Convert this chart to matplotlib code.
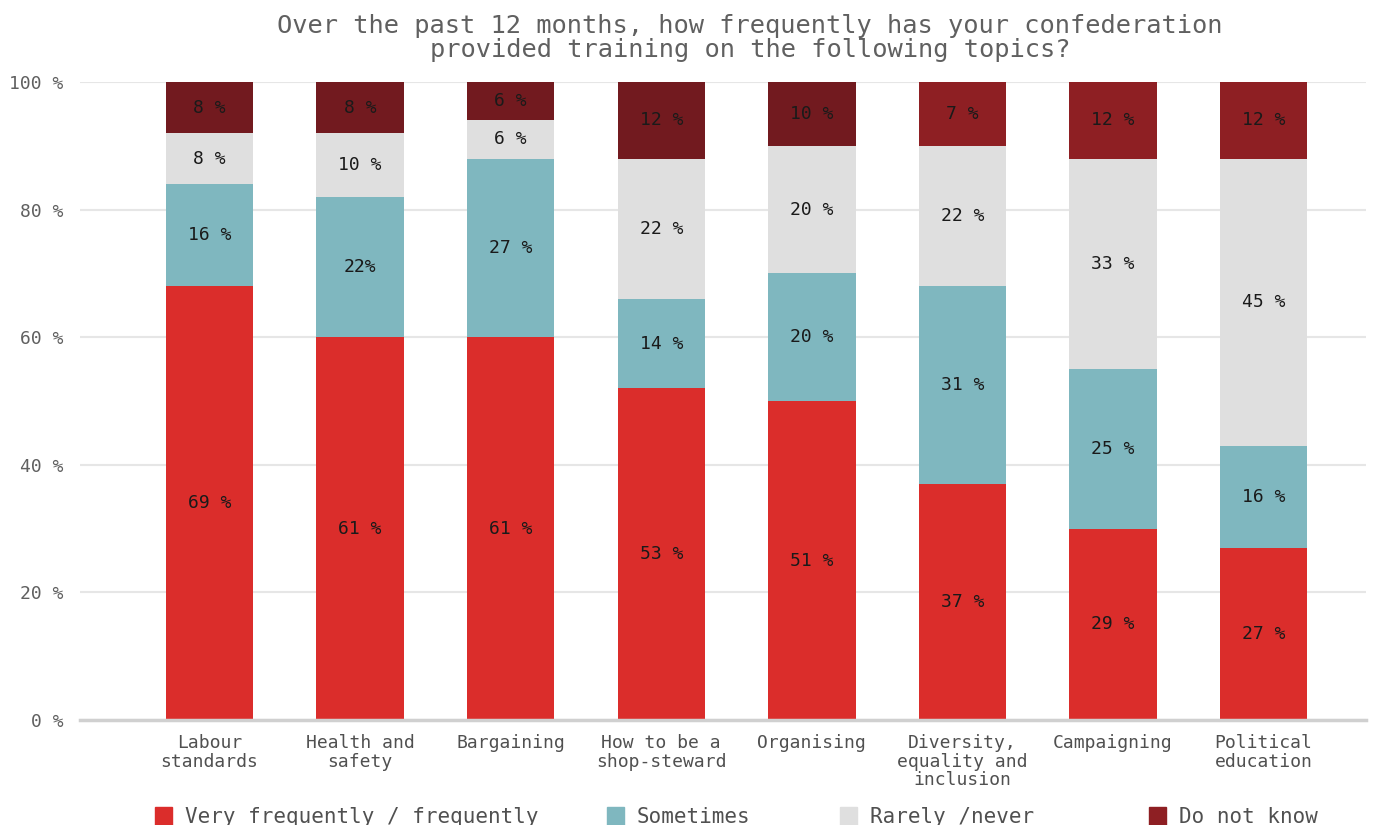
import numpy as np
import matplotlib.pyplot as plt
from matplotlib.patches import Rectangle

# Kategori dan nilai (tinggi batang, label dari teks)
categories = ['Labour\nstandards', 'Health and\nsafety', 'Bargaining',
              'How to be a\nshop-steward', 'Organising',
              'Diversity,\nequality and\ninclusion', 'Campaigning',
              'Political\neducation']
series_names = ['Very frequently / frequently', 'Sometimes',
                'Rarely /never', 'Do not know']

frequent = [68, 60, 60, 52, 50, 37, 30, 27]
sometimes = [16, 22, 28, 14, 20, 31, 25, 16]
rarely = [8, 10, 6, 22, 20, 22, 33, 45]
dont_know = [8, 8, 6, 12, 10, 10, 12, 12]

frequent_lbl = ['69 %', '61 %', '61 %', '53 %', '51 %', '37 %', '29 %', '27 %']
sometimes_lbl = ['16 %', '22%', '27 %', '14 %', '20 %', '31 %', '25 %', '16 %']
rarely_lbl = ['8 %', '10 %', '6 %', '22 %', '20 %', '22 %', '33 %', '45 %']
dont_know_lbl = ['8 %', '8 %', '6 %', '12 %', '10 %', '7 %', '12 %', '12 %']

yticks = [0, 20, 40, 60, 80, 100]

red = '#db2d2b'
teal = '#7fb7bf'
grey = '#dfdfdf'
dark1 = '#721a1f'
dark2 = '#8e1f23'
dark_colors = [dark1] * 5 + [dark2] * 3

plt.rcParams['font.family'] = ['DejaVu Sans Mono']

fig = plt.figure(figsize=(13.81, 8.25), dpi=100)
ax = fig.add_axes([80 / 1381, 105 / 825, 1286 / 1381, 638 / 825])

x = np.arange(len(categories))
w = 0.58
bottom = np.zeros(len(categories))
stack = [(frequent, frequent_lbl, [red] * 8),
         (sometimes, sometimes_lbl, [teal] * 8),
         (rarely, rarely_lbl, [grey] * 8),
         (dont_know, dont_know_lbl, dark_colors)]
for vals, lbls, cols in stack:
    vals = np.array(vals, dtype=float)
    ax.bar(x, vals, w, bottom=bottom, color=cols, zorder=3)
    for xi, b, v, t in zip(x, bottom, vals, lbls):
        ax.text(xi, b + v / 2, t, ha='center', va='center',
                fontsize=13, color='#1a1a1a', zorder=4)
    bottom += vals

ax.set_xlim(-0.86, 7.68)
ax.set_ylim(0, 100)
ax.set_yticks(yticks)
ax.set_yticklabels([f'{t} %' for t in yticks], fontsize=13, color='#606060')
ax.set_xticks(x)
ax.set_xticklabels(categories, fontsize=13, color='#505050', linespacing=1.05)
ax.tick_params(axis='both', length=0)
ax.tick_params(axis='y', pad=12)
ax.tick_params(axis='x', pad=10)
for s in ['top', 'right', 'left']:
    ax.spines[s].set_visible(False)
ax.spines['bottom'].set_color('#d0d0d0')
ax.spines['bottom'].set_linewidth(2.5)
ax.spines['bottom'].set_zorder(5)
ax.grid(axis='y', color='#e6e6e6', linewidth=1.5, zorder=0)

fig.text(750 / 1381, 1 - 38 / 825,
         'Over the past 12 months, how frequently has your confederation\n'
         'provided training on the following topics?',
         ha='center', va='center', fontsize=18.3, color='#606060',
         linespacing=0.95)

# legenda manual
leg_x = [155, 607, 840, 1149]
leg_cols = [red, teal, grey, dark2]
for lx, c, name in zip(leg_x, leg_cols, series_names):
    fig.add_artist(Rectangle((lx / 1381, 0), 17 / 1381, 18 / 825,
                             transform=fig.transFigure, color=c))
    fig.text((lx + 30) / 1381, 1 - 817 / 825, name, ha='left', va='center',
             fontsize=15, color='#505050')

fig.savefig('out.png', dpi=100)
